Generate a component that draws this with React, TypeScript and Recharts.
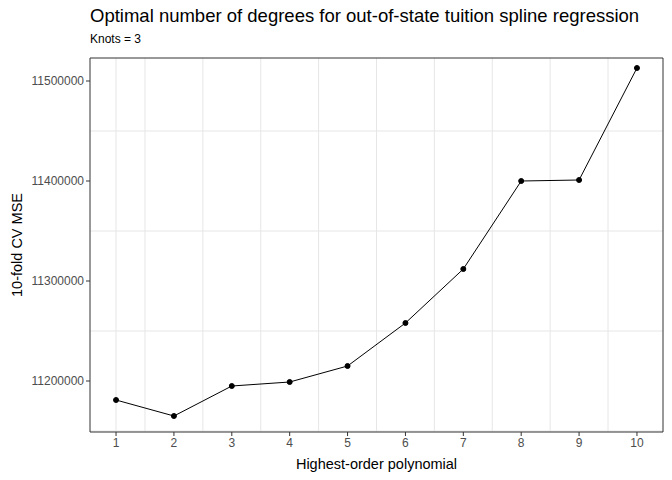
import React from "react";
import { LineChart, Line, XAxis, YAxis, CartesianGrid, ReferenceArea } from "recharts";

const degrees = [1, 2, 3, 4, 5, 6, 7, 8, 9, 10];
const cvMse = [11181000, 11165000, 11195000, 11199000, 11215000, 11258000, 11312000, 11400000, 11401000, 11513000];
const yTicks = [11200000, 11300000, 11400000, 11500000];
const yMinor = [11150000, 11250000, 11350000, 11450000];
const xMinor = [1.5, 2.5, 3.5, 4.5, 5.5, 6.5, 7.5, 8.5, 9.5];

const data = degrees.map((d, i) => ({ degree: d, mse: cvMse[i] }));
const font = "Arial, 'Liberation Sans', sans-serif";

export default function App() {
  return (
    <div style={{ position: "absolute", left: 0, top: 0, width: 672, height: 480, fontFamily: font, background: "#fff" }}>
      <LineChart width={672} height={480} data={data} margin={{ top: 58, right: 9, left: 0, bottom: 0 }}>
        <CartesianGrid
          stroke="#e6e6e6"
          horizontalValues={[...yTicks, ...yMinor]}
          verticalValues={[...degrees, ...xMinor]}
        />
        <XAxis
          dataKey="degree"
          type="number"
          domain={[0.55, 10.45]}
          ticks={degrees}
          height={48}
          tick={{ fill: "#4d4d4d", fontSize: 12, fontFamily: font }}
          tickLine={{ stroke: "#333" }}
          tickSize={4}
          axisLine={false}
        />
        <YAxis
          type="number"
          domain={[11149000, 11523000]}
          ticks={yTicks}
          width={90}
          tick={{ fill: "#4d4d4d", fontSize: 12, fontFamily: font }}
          tickLine={{ stroke: "#333" }}
          tickSize={4}
          axisLine={false}
        />
        <ReferenceArea x1={0.55} x2={10.45} y1={11149000} y2={11523000} fill="none" stroke="#333" strokeWidth={1} />
        <Line
          dataKey="mse"
          stroke="#000"
          strokeWidth={1}
          dot={{ r: 2.5, fill: "#000", stroke: "#000" }}
          isAnimationActive={false}
        />
      </LineChart>
      <div style={{ position: "absolute", left: 90, top: 5, fontSize: 18.5, color: "#000" }}>
        Optimal number of degrees for out-of-state tuition spline regression
      </div>
      <div style={{ position: "absolute", left: 90, top: 32, fontSize: 12, color: "#000" }}>Knots = 3</div>
      <div style={{ position: "absolute", left: 90, width: 573, top: 456, textAlign: "center", fontSize: 14.5 }}>
        Highest-order polynomial
      </div>
      <div
        style={{
          position: "absolute",
          left: 17,
          top: 245,
          fontSize: 14.5,
          transform: "translate(-50%, -50%) rotate(-90deg)",
          whiteSpace: "nowrap",
        }}
      >
        10-fold CV MSE
      </div>
    </div>
  );
}
